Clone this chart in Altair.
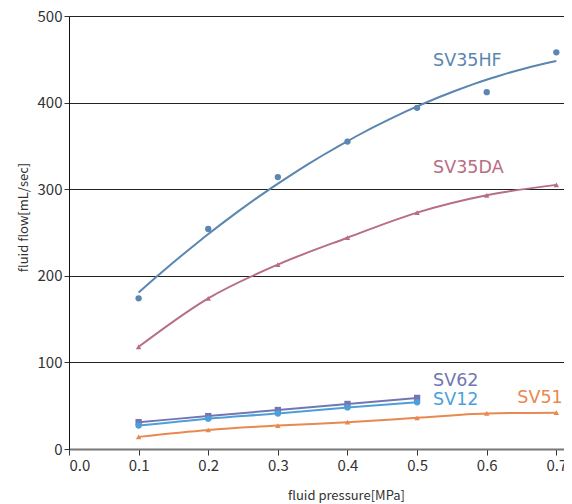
import altair as alt
import pandas as pd

pressure = [0.1, 0.2, 0.3, 0.4, 0.5, 0.6, 0.7]
sv35hf = [174, 254, 314, 355, 394, 412, 458]
sv35da = [118, 174, 213, 244, 273, 293, 305]
pressure_short = [0.1, 0.2, 0.3, 0.4, 0.5]
sv62 = [31, 38, 45, 52, 59]
sv12 = [27, 35, 41, 48, 54]
sv51 = [14, 22, 27, 31, 36, 41, 42]

series_names = ["SV35HF", "SV35DA", "SV62", "SV12", "SV51"]
series_colors = ["#5a86b0", "#b86e82", "#7276b2", "#4d9fda", "#e8894f"]

label_text = ["SV35HF", "SV35DA", "SV62", "SV12", "SV51"]
label_x = [0.523, 0.523, 0.523, 0.523, 0.644]
label_y = [448, 325, 78.5, 56.5, 59]

FONT = "Noto Sans CJK JP"
NBSP = "\u00a0"

rows = []
for name, xs, ys in [("SV35HF", pressure, sv35hf), ("SV35DA", pressure, sv35da),
                     ("SV62", pressure_short, sv62), ("SV12", pressure_short, sv12),
                     ("SV51", pressure, sv51)]:
    for x, y in zip(xs, ys):
        rows.append({"series": name, "p": x, "flow": y})
df = pd.DataFrame(rows)
labels = pd.DataFrame({"series": label_text, "p": label_x, "flow": label_y})

color = alt.Color("series:N", scale=alt.Scale(domain=series_names, range=series_colors), legend=None)

xenc = alt.X("p:Q", scale=alt.Scale(domain=[0, 0.711], nice=False),
             axis=alt.Axis(values=[0, 0.1, 0.2, 0.3, 0.4, 0.5, 0.6, 0.7], format=".1f",
                           title="fluid pressure[MPa]", grid=False,
                           domainColor="#777777", domainWidth=2,
                           tickColor="#333333", tickSize=6, labelPadding=3,
                           labelExpr="datum.value > 0.65 ? datum.label + '" + NBSP * 3 + "' : datum.label",
                           labelFontSize=15, labelColor="#333333", labelFont=FONT,
                           titleFont=FONT, titleFontSize=13, titleFontWeight="normal",
                           titleColor="#333333", titleX=277, titleY=46,
                           titleBaseline="middle", titleAlign="center"))
yenc = alt.Y("flow:Q", scale=alt.Scale(domain=[0, 500], nice=False),
             axis=alt.Axis(values=[0, 100, 200, 300, 400, 500], title="fluid flow[mL/sec]",
                           grid=True, gridColor="#222222", gridWidth=1, gridOpacity=1,
                           domainColor="#111111", domainWidth=1,
                           tickColor="#333333", tickSize=5, labelPadding=2,
                           labelFontSize=15, labelColor="#333333", labelFont=FONT,
                           titleFont=FONT, titleFontSize=13, titleFontWeight="normal",
                           titleColor="#333333", titleX=-46, titleY=201, titleAngle=-90,
                           titleBaseline="middle", titleAlign="center"))

base = alt.Chart(df)

hf = base.transform_filter(alt.datum.series == "SV35HF")
hf_fit = hf.transform_regression("p", "flow", method="poly", order=2, extent=[0.1, 0.7],
                                 groupby=["series"]).mark_line(strokeWidth=2).encode(
    x=xenc, y=yenc, color=color)
hf_pts = hf.mark_point(shape="circle", filled=True, size=40, opacity=1).encode(
    x=xenc, y=yenc, color=color)

others = base.transform_filter(alt.datum.series != "SV35HF")
lines = others.mark_line(strokeWidth=2, interpolate="monotone").encode(
    x=xenc, y=yenc, color=color, detail="series:N")

tri = base.transform_filter(alt.FieldOneOfPredicate(field="series", oneOf=["SV35DA", "SV51"])) \
    .mark_point(shape="triangle-up", filled=True, size=30, opacity=1).encode(x=xenc, y=yenc, color=color)
sq = base.transform_filter(alt.datum.series == "SV62") \
    .mark_point(shape="square", filled=True, size=40, opacity=1).encode(x=xenc, y=yenc, color=color)
circ = base.transform_filter(alt.datum.series == "SV12") \
    .mark_point(shape="circle", filled=True, size=40, opacity=1).encode(x=xenc, y=yenc, color=color)

text = alt.Chart(labels).mark_text(align="left", baseline="middle", fontSize=17.5,
                                   font="DejaVu Sans").encode(
    x=xenc, y=yenc, text="series:N", color=color)

chart = alt.layer(hf_fit, hf_pts, lines, tri, sq, circ, text).properties(
    width=495, height=433,
    autosize=alt.AutoSizeParams(type="none"),
    padding={"left": 61, "top": 8, "right": 0, "bottom": 55},
).configure_view(stroke=None).configure(background="white")

chart.save("out.html", embed_options={"renderer": "svg", "actions": False})
